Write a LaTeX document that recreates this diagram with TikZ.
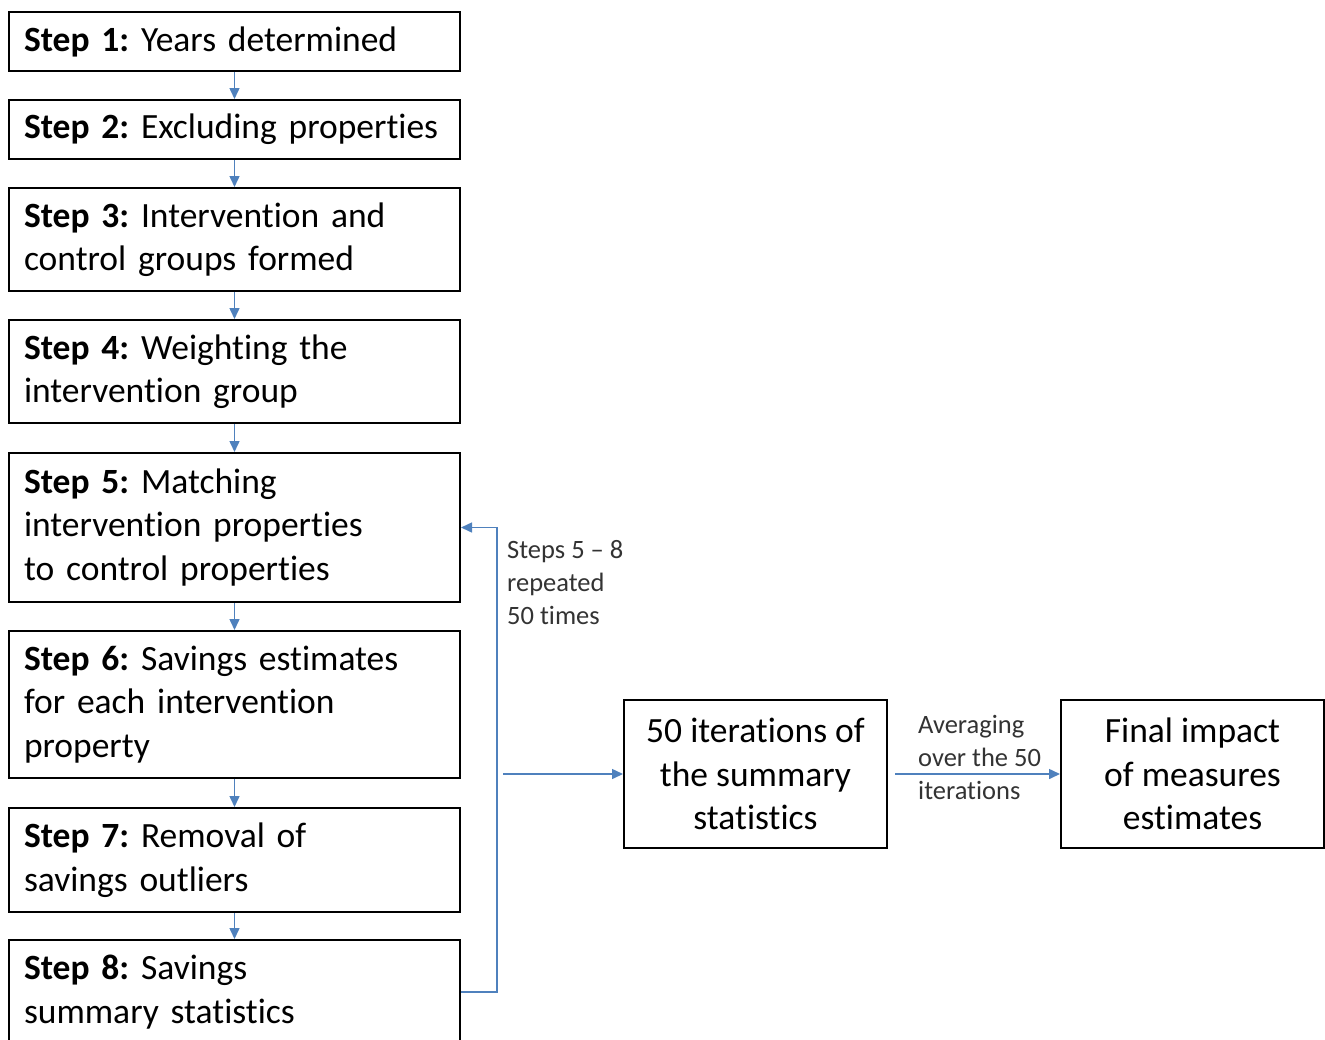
\documentclass[tikz,border=0pt]{standalone}
\usepackage{fontspec}
\setmainfont{Carlito}[Ligatures={CommonOff,ContextualOff,RequiredOff}]
\usetikzlibrary{arrows.meta,positioning}
\definecolor{flowblue}{RGB}{79,129,189}
\frenchspacing
\tikzset{
  stepbox/.style={draw, line width=2pt, anchor=north west, text width=421pt,
    inner xsep=15pt, align=left, font=\fontsize{35.5}{43.5}\selectfont},
  resultbox/.style={draw, line width=2pt, minimum width=263pt, minimum height=148pt,
    align=center, font=\fontsize{35.5}{43.5}\selectfont},
  flow/.style={draw=flowblue, line width=1.5pt, -{Triangle[length=11pt,width=10pt]}},
  note/.style={align=left, text=black!80, inner sep=0pt, font=\fontsize{26.5}{33}\selectfont}
}
\begin{document}
\begin{tikzpicture}[x=1pt,y=-1pt]
  \clip (0,0) rectangle (1325,1039);

  % Steps 1 - 8
  \node[stepbox, minimum height=59pt] (s1) at (8,11) {\textbf{Step 1:} Years determined};
  \node[stepbox, minimum height=59pt] (s2) at (8,99) {\textbf{Step 2:} Excluding properties};
  \node[stepbox, minimum height=103pt] (s3) at (8,187) {\textbf{Step 3:} Intervention and\\control groups formed};
  \node[stepbox, minimum height=103pt] (s4) at (8,319) {\textbf{Step 4:} Weighting the\\intervention group};
  \node[stepbox, minimum height=149pt] (s5) at (8,452) {\textbf{Step 5:} Matching\\intervention properties\\to control properties};
  \node[stepbox, minimum height=147pt] (s6) at (8,630) {\textbf{Step 6:} Savings estimates\\for each intervention\\property};
  \node[stepbox, minimum height=104pt] (s7) at (8,807) {\textbf{Step 7:} Removal of\\savings outliers};
  \node[stepbox, minimum height=104pt] (s8) at (8,939) {\textbf{Step 8:} Savings\\summary statistics};

  \draw[flow] (s1) -- (s2);
  \draw[flow] (s2) -- (s3);
  \draw[flow] (s3) -- (s4);
  \draw[flow] (s4) -- (s5);
  \draw[flow] (s5) -- (s6);
  \draw[flow] (s6) -- (s7);
  \draw[flow] (s7) -- (s8);

  % Repeat loop
  \coordinate (loop) at (497,0);
  \draw[flow] (s8.east) -- (s8.east -| loop) -- (s5.east -| loop) -- (s5.east);
  \node[note, anchor=west] (repeat) at (507,583) {Steps 5 -- 8\\repeated\\50 times};

  % Results
  \node[resultbox] (iter) at (755.5,774) {50 iterations of\\the summary\\statistics};
  \node[resultbox] (final) at (1192.5,774) {Final impact\\of measures\\estimates};
  \coordinate (feed) at (503,774);
  \draw[flow] (feed) -- (iter.west);
  \draw[flow, shorten <=7pt] (iter.east) -- (final.west);
  \node[note, anchor=west] (avg) at (918,757) {Averaging\\over the 50\\iterations};
\end{tikzpicture}
\end{document}
